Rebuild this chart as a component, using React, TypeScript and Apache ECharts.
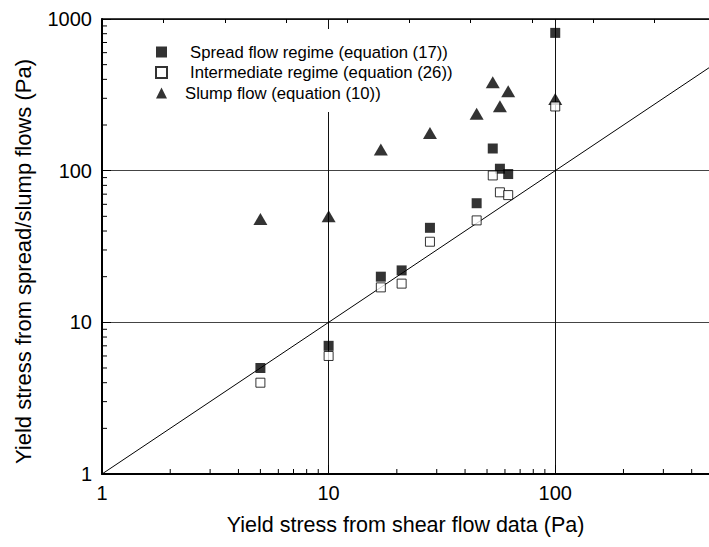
import React, { useEffect, useRef } from 'react';
import * as echarts from 'echarts';

const X_MIN = 1;
const X_MAX = 477;
const Y_MIN = 1;
const Y_MAX = 1000;

const shearYield = [5, 10, 17, 21, 28, 45, 53, 57, 62, 100];
const spreadYield = [5, 7, 20, 22, 42, 61, 140, 103, 95, 810];
const intermediateYield = [4, 6, 17, 18, 34, 47, 93, 72, 69, 265];
const slumpShear = [5, 10, 17, 28, 45, 53, 57, 62, 100];
const slumpYield = [48, 50, 138, 177, 237, 383, 266, 334, 297];

const xMinorTicks = [2, 3, 4, 5, 6, 7, 8, 9, 20, 30, 40, 50, 60, 70, 80, 90, 200, 300, 400];
const yMinorTicks = [2, 3, 4, 5, 6, 7, 8, 9, 20, 30, 40, 50, 60, 70, 80, 90, 200, 300, 400, 500, 600, 700, 800, 900];
const tickLabels = ['1', '10', '100', '1000'];

const seriesNames = [
  'Spread flow regime (equation (17))',
  'Intermediate regime (equation (26))',
  'Slump flow (equation (10))',
];

const FONT = '"Liberation Sans", Arial, Helvetica, sans-serif';

export default function App() {
  const ref = useRef<HTMLDivElement>(null);
  useEffect(() => {
    if (!ref.current) return;
    const chart = echarts.init(ref.current, undefined, { renderer: 'svg' });
    const labelFmt = (v: number) => {
      const s = String(Math.round(v));
      return tickLabels.includes(s) && Math.abs(v - Math.round(v)) < 1e-6 ? s : '';
    };
    chart.setOption({
      animation: false,
      backgroundColor: '#fff',
      textStyle: { fontFamily: FONT },
      grid: { left: 102, top: 19, right: -1, bottom: 73 },
      legend: {
        orient: 'vertical',
        left: 145,
        top: 29,
        data: [
          { name: seriesNames[0], textStyle: { padding: [0, 0, 0, 18] } },
          { name: seriesNames[1], textStyle: { padding: [0, 0, 0, 18] } },
          { name: seriesNames[2], textStyle: { padding: [0, 0, 0, 13] } },
        ],
        selectedMode: false,
        backgroundColor: '#fff',
        padding: [13, 12, 9, 10],
        itemWidth: 11,
        itemHeight: 11,
        itemGap: 0.5,
        textStyle: { fontSize: 16.7, color: '#000', fontFamily: FONT, lineHeight: 20 },
      },
      xAxis: [
        {
          type: 'log',
          logBase: 10,
          min: X_MIN,
          max: X_MAX,
          position: 'bottom',
          name: 'Yield stress from shear flow data (Pa)',
          nameLocation: 'middle',
          nameGap: 40,
          nameTextStyle: { fontSize: 21.5, color: '#000', fontFamily: FONT },
          axisLine: { show: true, lineStyle: { color: '#000', width: 2 } },
          axisTick: { show: true, inside: true, length: 9, lineStyle: { color: '#000', width: 1 } },
          axisLabel: {
            fontSize: 20,
            color: '#000',
            margin: 9,
            fontFamily: FONT,
            showMaxLabel: false,
            formatter: labelFmt,
          },
          splitLine: { show: true, lineStyle: { color: '#111', width: 1 } },
        },
        {
          type: 'value',
          position: 'top',
          min: 0,
          max: 608 / 61.5,
          interval: 1,
          axisLine: { show: true, onZero: false, lineStyle: { color: '#000', width: 1.5 } },
          axisTick: { show: true, inside: true, length: 4, lineStyle: { color: '#000', width: 1 } },
          axisLabel: { show: false },
          splitLine: { show: false },
        },
      ],
      yAxis: {
        type: 'log',
        logBase: 10,
        min: Y_MIN,
        max: Y_MAX,
        name: 'Yield stress from spread/slump flows (Pa)',
        nameLocation: 'middle',
        nameGap: 68,
        nameTextStyle: { fontSize: 22, color: '#000', fontFamily: FONT, padding: [0, 30, 0, 0] },
        axisLine: { show: true, lineStyle: { color: '#000', width: 2 } },
        axisTick: { show: true, inside: true, length: 9, lineStyle: { color: '#000', width: 1 } },
        axisLabel: { fontSize: 20, color: '#000', margin: 10, fontFamily: FONT, formatter: labelFmt },
        splitLine: { show: true, lineStyle: { color: '#444', width: 1.2 } },
      },
      series: [
        {
          type: 'line',
          data: [[X_MIN, X_MIN], [X_MAX, X_MAX]],
          symbol: 'none',
          silent: true,
          lineStyle: { color: '#000', width: 1 },
          z: 1,
        },
        {
          type: 'custom',
          silent: true,
          data: xMinorTicks.map((v) => [v, Y_MIN]),
          renderItem: (params: any, api: any) => {
            const p = api.coord([api.value(0), api.value(1)]);
            return {
              type: 'line',
              shape: { x1: p[0], y1: p[1], x2: p[0], y2: p[1] - 5 },
              style: { stroke: '#000', lineWidth: 1 },
            };
          },
          z: 1,
        },
        {
          type: 'custom',
          silent: true,
          data: yMinorTicks.map((v) => [X_MIN, v]),
          renderItem: (params: any, api: any) => {
            const p = api.coord([api.value(0), api.value(1)]);
            return {
              type: 'line',
              shape: { x1: p[0], y1: p[1], x2: p[0] + 5, y2: p[1] },
              style: { stroke: '#000', lineWidth: 1 },
            };
          },
          z: 1,
        },
        {
          name: seriesNames[0],
          type: 'scatter',
          symbol: 'rect',
          symbolSize: 10,
          itemStyle: { color: '#000' },
          data: shearYield.map((x, i) => [x, spreadYield[i]]),
          z: 3,
        },
        {
          name: seriesNames[1],
          type: 'scatter',
          symbol: 'rect',
          symbolSize: 9,
          itemStyle: { color: '#fff', borderColor: '#000', borderWidth: 1 },
          data: shearYield.map((x, i) => [x, intermediateYield[i]]),
          z: 4,
        },
        {
          name: seriesNames[2],
          type: 'scatter',
          symbol: 'triangle',
          symbolSize: [14, 12],
          itemStyle: { color: '#000' },
          data: slumpShear.map((x, i) => [x, slumpYield[i]]),
          z: 3,
        },
      ],
    });
    return () => chart.dispose();
  }, []);
  return (
    <div
      ref={ref}
      style={{ position: 'absolute', left: 0, top: 0, width: 709, height: 547, background: '#fff' }}
    />
  );
}
